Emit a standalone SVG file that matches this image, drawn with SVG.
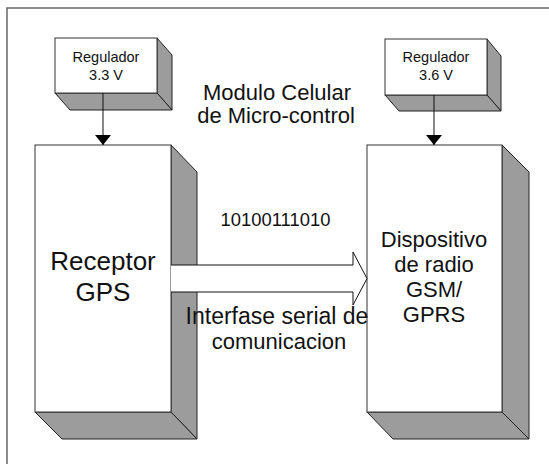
<svg xmlns="http://www.w3.org/2000/svg" width="549" height="464" viewBox="0 0 549 464">
  <defs>
    <style>
      text { font-family: "Liberation Sans", Arial, sans-serif; fill: #111; text-anchor: middle; }
      .front { fill: #ffffff; stroke: #333; stroke-width: 1; }
      .shade { fill: #9c9c9c; stroke: #222; stroke-width: 1; stroke-linejoin: miter; }
      .wire { stroke: #111; stroke-width: 1; fill: none; }
      .frame { fill: none; stroke: #666; stroke-width: 1.5; }
    </style>
    <marker id="head" viewBox="0 0 10 16" refX="10" refY="8" markerWidth="10" markerHeight="16" markerUnits="userSpaceOnUse" orient="auto">
      <path d="M0,0 L10,8 L0,16 Z" fill="#000"/>
    </marker>
  </defs>

  <rect width="549" height="464" fill="#ffffff"/>
  <!-- outer border -->
  <rect class="frame" x="7" y="8" width="580" height="500"/>

  <!-- 3.3 V regulator -->
  <g id="reg33">
    <polygon class="shade" points="157,38 172,55 172,110 157,93"/>
    <polygon class="shade" points="55,93 157,93 172,110 70,110"/>
    <rect class="front" x="55" y="38" width="102" height="55"/>
    <text x="106" y="62" font-size="14.5">Regulador</text>
    <text x="106" y="80" font-size="14.5">3.3 V</text>
  </g>

  <!-- 3.6 V regulator -->
  <g id="reg36">
    <polygon class="shade" points="487,39 501,56 501,111 487,95"/>
    <polygon class="shade" points="385,95 487,95 501,111 399,111"/>
    <rect class="front" x="385" y="39" width="102" height="56"/>
    <text x="436" y="62" font-size="14.5">Regulador</text>
    <text x="436" y="80" font-size="14.5">3.6 V</text>
  </g>

  <!-- GPS receiver block -->
  <g id="gps">
    <polygon class="shade" points="171,145 197,172 197,439 171,412"/>
    <polygon class="shade" points="35,412 171,412 197,439 62,439"/>
    <rect class="front" x="35" y="145" width="136" height="267"/>
    <text x="103" y="270" font-size="26">Receptor</text>
    <text x="103" y="301" font-size="26">GPS</text>
  </g>

  <!-- GSM/GPRS radio block -->
  <g id="gsm">
    <polygon class="shade" points="502,145 529,172 529,439 502,412"/>
    <polygon class="shade" points="367,412 502,412 529,439 393,439"/>
    <rect class="front" x="367" y="145" width="135" height="267"/>
    <text x="434" y="247" font-size="22">Dispositivo</text>
    <text x="434" y="272" font-size="22">de radio</text>
    <text x="434" y="297" font-size="22">GSM/</text>
    <text x="434" y="322" font-size="22">GPRS</text>
  </g>

  <!-- free labels -->
  <g id="title">
    <text x="277" y="100" font-size="22">Modulo Celular</text>
    <text x="276" y="123" font-size="22">de Micro-control</text>
  </g>
  <g id="bits">
    <text x="275.5" y="225.5" font-size="18.4">10100111010</text>
  </g>

  <!-- connectors -->
  <g id="connectors">
    <line class="wire" x1="103" y1="93" x2="103" y2="145" marker-end="url(#head)"/>
    <line class="wire" x1="434" y1="95" x2="434" y2="145" marker-end="url(#head)"/>
    <polygon points="171,265 353,265 353,252 367,278.5 353,305 353,292 171,292" fill="#ffffff" stroke="none"/>
    <polyline class="wire" points="171,265 353,265 353,252 367,278.5 353,305 353,292 171,292"/>
  </g>

  <g id="serial-label">
    <text x="277" y="324" font-size="23">Interfase serial de</text>
    <text x="279" y="349" font-size="22">comunicacion</text>
  </g>
</svg>
